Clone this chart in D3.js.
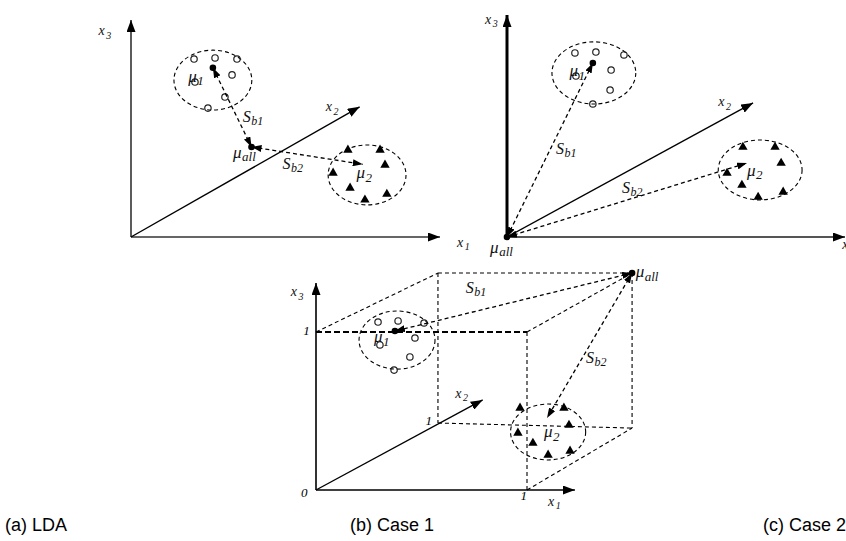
<!DOCTYPE html>
<html><head><meta charset="utf-8">
<script src="https://cdn.jsdelivr.net/npm/d3@7"></script>
<style>body{margin:0;background:#fff}svg{display:block}</style>
</head><body><svg id="c" width="846" height="541"></svg>
<script>
// ---------- Panel (a) LDA : data units 0..10 on each axis ----------
const aX2End = [7.4, 6.0];
const aMu1 = [2.65, 7.8], aMuAll = [3.9, 4.15], aMu2 = [7.5, 3.35];
const aClass1 = [[2.04,8.2],[2.72,8.25],[3.43,8.2],[2.07,7.14],[3.27,7.47],[3.04,6.45],[2.49,5.94]];
const aClass2 = [[7.02,4.01],[8.06,4.01],[8.22,3.32],[6.54,2.95],[7.09,2.26],[7.57,1.71],[8.28,1.98]];
const aEllipses = [[2.65,7.23,1.26,1.38],[7.64,2.86,1.26,1.38]];
const aLabels = [["x","3",-1.05,9.3],["x","1",10.55,-0.45],["x","2",6.3,5.8],
  ["μ","1",1.85,7.15],["μ","all",3.3,3.65],["S","b1",3.62,5.3],["S","b2",4.9,3.15],["μ","2",7.3,2.7]];

// ---------- Panel (c) Case 2 : data units 0..10 ----------
const cX2End = [7.28, 6.04];
const cMu1 = [2.54, 7.84], cMuAll = [0, 0], cMu2 = [7.1, 3.33];
const cClass1 = [[2.01,8.29],[2.63,8.33],[3.46,8.2],[2.04,7.25],[3.08,7.52],[3.05,6.62],[2.54,5.99]];
const cClass2 = [[6.98,4.05],[7.93,4.05],[8.11,3.33],[6.51,2.88],[6.95,2.34],[7.43,1.8],[8.17,2.03]];
const cEllipses = [[2.57,7.39,1.24,1.40],[7.49,3.02,1.24,1.35]];
const cLabels = [["x","3",-0.65,9.6],["x","1",9.92,-0.55],["x","2",6.25,5.9],
  ["μ","1",1.85,7.25],["μ","all",-0.5,-0.7],["S","b1",1.45,3.75],["S","b2",3.4,2.0],["μ","2",7.1,2.75]];

// ---------- Panel (b) Case 1 : unit cube ----------
const bAxisEnds = [1.227, 1.31];
const bX2End = [0.79, 0.57];
const bCube = {A:[0,1],B:[1,1],C:[1,0],D:[0.578,0.424],E:[0.578,1.373],F:[1.498,1.373],G:[1.498,0.392]};
const bEdges = [["B","C"],["A","E"],["E","F"],["B","F"],["E","D"],["D","G"],["F","G"],["C","G"]];
const bMu1 = [0.374, 1.006], bMuAll = [1.498, 1.373], bMu2 = [1.095, 0.456];
const bClass1 = [[0.294,1.063],[0.389,1.07],[0.512,1.057],[0.303,0.918],[0.469,0.962],[0.445,0.842],[0.37,0.759]];
const bClass2 = [[0.967,0.519],[1.175,0.519],[1.199,0.411],[0.957,0.361],[1.028,0.297],[1.1,0.222],[1.204,0.247]];
const bEllipses = [[0.384,0.949,0.18,0.184],[1.1,0.367,0.178,0.177]];
const bLabels = [["x","3",-0.12,1.225],["x","2",0.66,0.585],["x","1",1.1,-0.1],
  ["μ","1",0.275,0.935],["μ","all",1.515,1.345],["S","b1",0.71,1.25],["S","b2",1.28,0.805],["μ","2",1.08,0.335]];
const bTicks = [["1",-0.03,0.98],["0",-0.04,-0.044],["1",1.0,-0.063],["1",0.55,0.41]];

const captions = ["(a) LDA", "(b) Case 1", "(c) Case 2"];

// ---------- drawing ----------
const svg = d3.select("#c");
const defs = svg.append("defs");
function mk(id, w, h) {
  defs.append("marker").attr("id", id).attr("viewBox", `0 0 ${w} ${h}`)
    .attr("refX", w).attr("refY", h/2).attr("markerWidth", w).attr("markerHeight", h)
    .attr("markerUnits", "userSpaceOnUse").attr("orient", "auto-start-reverse")
    .append("path").attr("d", `M0,0L${w},${h/2}L0,${h}Z`).attr("fill", "#000");
}
mk("axHead", 12, 9); mk("dHead", 10, 7);

function panel(o) {
  const g = svg.append("g");
  const sx = o.sx, sy = o.sy;
  const line = (p, q) => g.append("line")
    .attr("x1", sx(p[0])).attr("y1", sy(p[1])).attr("x2", sx(q[0])).attr("y2", sy(q[1]));
  // axes
  line([0,0],[0,o.yMax]).attr("stroke", o.vCol).attr("stroke-width", o.vW).attr("marker-end","url(#axHead)");
  line([0,0],[o.xMax,0]).attr("stroke", o.hCol).attr("stroke-width", o.hW).attr("marker-end","url(#axHead)");
  line([0,0],o.x2).attr("stroke", "#000").attr("stroke-width", 1.4).attr("marker-end","url(#axHead)");
  if (o.extra) o.extra(g, line);
  // ellipses
  g.selectAll("ellipse.cl").data(o.ell).join("ellipse")
    .attr("cx", d => sx(d[0])).attr("cy", d => sy(d[1]))
    .attr("rx", d => sx(d[0]+d[2]) - sx(d[0])).attr("ry", d => sy(d[1]) - sy(d[1]+d[3]))
    .attr("fill", "none").attr("stroke", "#000").attr("stroke-width", 1.1).attr("stroke-dasharray", "4,3");
  // class 1 circles
  g.selectAll("ellipse.p1").data(o.c1).join("ellipse")
    .attr("cx", d => sx(d[0])).attr("cy", d => sy(d[1])).attr("rx", 3.2).attr("ry", 3.2)
    .attr("fill", "none").attr("stroke", "#222").attr("stroke-width", 1.2);
  // class 2 triangles
  g.selectAll("path.p2").data(o.c2).join("path")
    .attr("d", d3.symbol(d3.symbolTriangle, 38))
    .attr("transform", d => `translate(${sx(d[0])},${sy(d[1])})`).attr("fill", "#000");
  // between-class arrows
  [o.mu1, o.mu2].forEach(m => {
    line(o.muAll, m).attr("stroke", "#000").attr("stroke-width", 1.3).attr("stroke-dasharray", "4,3")
      .attr("marker-start","url(#dHead)").attr("marker-end","url(#dHead)");
  });
  // means
  g.selectAll("circle.mu").data([o.mu1, o.muAll]).join("circle")
    .attr("cx", d => sx(d[0])).attr("cy", d => sy(d[1])).attr("r", 3.3).attr("fill", "#000");
  // labels
  o.labels.forEach(l => {
    const big = l[0] === "μ" ? 17 : (l[0] === "S" ? 16 : 14);
    const t = g.append("text").attr("x", sx(l[2])).attr("y", sy(l[3]))
      .attr("font-family", "Liberation Serif, serif").attr("font-style", "italic")
      .attr("font-size", big).attr("fill", "#111");
    t.append("tspan").text(l[0]);
    t.append("tspan").attr("dx", l[0] === "x" ? 1.5 : 0.5).attr("dy", 3.5)
      .attr("font-size", Math.round(big*0.74)).text(l[1]);
  });
  return g;
}

panel({
  sx: d3.scaleLinear().domain([0,10]).range([131,440]),
  sy: d3.scaleLinear().domain([0,10]).range([237,20]),
  xMax: 10, yMax: 10, x2: aX2End, vCol: "#333", vW: 1.6, hCol: "#666", hW: 2,
  mu1: aMu1, muAll: aMuAll, mu2: aMu2, c1: aClass1, c2: aClass2, ell: aEllipses, labels: aLabels
});

panel({
  sx: d3.scaleLinear().domain([0,10]).range([507,845]),
  sy: d3.scaleLinear().domain([0,10]).range([237,15]),
  xMax: 10, yMax: 10, x2: cX2End, vCol: "#000", vW: 3, hCol: "#555", hW: 2,
  mu1: cMu1, muAll: cMuAll, mu2: cMu2, c1: cClass1, c2: cClass2, ell: cEllipses, labels: cLabels
});

const bsx = d3.scaleLinear().domain([0,1]).range([316,527]);
const bsy = d3.scaleLinear().domain([0,1]).range([490,332]);
panel({
  sx: bsx, sy: bsy,
  xMax: bAxisEnds[0], yMax: bAxisEnds[1], x2: bX2End, vCol: "#000", vW: 1.6, hCol: "#000", hW: 1.6,
  mu1: bMu1, muAll: bMuAll, mu2: bMu2, c1: bClass1, c2: bClass2, ell: bEllipses, labels: bLabels,
  extra: (g, line) => {
    line(bCube.A, bCube.B).attr("stroke", "#000").attr("stroke-width", 2).attr("stroke-dasharray", "6,3");
    bEdges.forEach(e => line(bCube[e[0]], bCube[e[1]]).attr("stroke", "#000").attr("stroke-width", 1.1).attr("stroke-dasharray", "4,3"));
    bTicks.forEach(t => g.append("text").attr("x", bsx(t[1])).attr("y", bsy(t[2]))
      .attr("text-anchor", "end").attr("font-family", "Liberation Serif, serif").attr("font-style", "italic")
      .attr("font-size", 13).text(t[0]));
  }
});

const capX = d3.scaleOrdinal().domain(captions).range([5, 350, 763]);
svg.selectAll("text.cap").data(captions).join("text")
  .attr("x", d => capX(d)).attr("y", 531)
  .attr("font-family", "Liberation Sans, Arial, sans-serif").attr("font-size", 18).attr("fill", "#000")
  .text(d => d);
</script>
</body></html>
